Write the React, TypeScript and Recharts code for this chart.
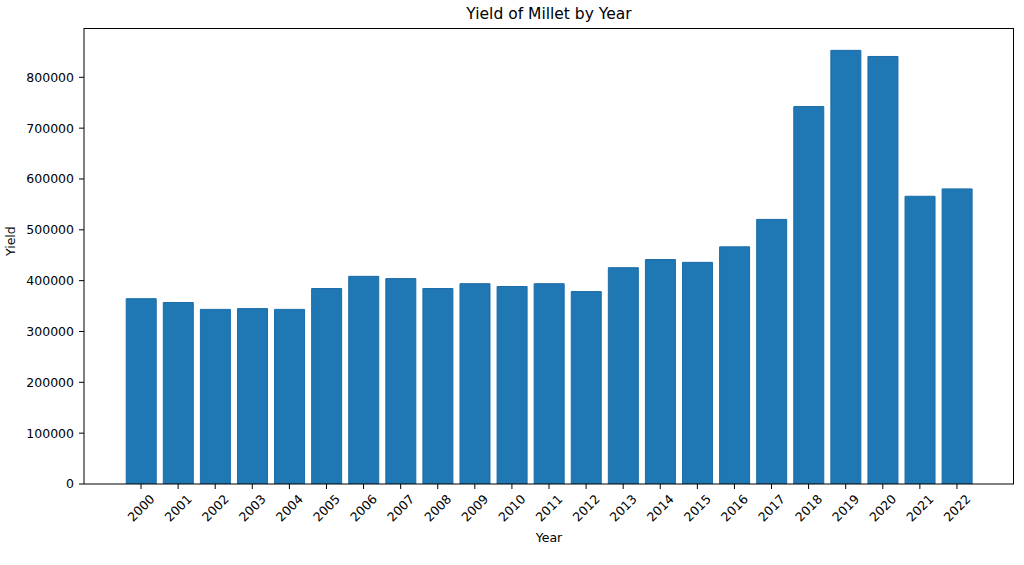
import React from 'react';
import { BarChart, Bar, XAxis, YAxis } from 'recharts';

// Millet yield per year
const years = [
    '2000', '2001', '2002', '2003', '2004', '2005', '2006', '2007', '2008', '2009', '2010', '2011',
    '2012', '2013', '2014', '2015', '2016', '2017', '2018', '2019', '2020', '2021', '2022',
];
const yields = [
    364500, 357000, 343500, 345000, 343500, 384500, 408500, 404000, 384500, 394000, 388500, 394000,
    378500, 425500, 441500, 436000, 466500, 520500, 742500, 853000, 841000, 566000, 580500,
];
const yTicks = [0, 100000, 200000, 300000, 400000, 500000, 600000, 700000, 800000];

const data = years.map((year, i) => ({ year, value: yields[i] }));

const FONT = '"DejaVu Sans", sans-serif';

const YearTick = (props: any) => {
    const { x, y, payload } = props;
    return (
        <text
            x={x}
            y={y + 17}
            transform={`rotate(-45, ${x}, ${y + 17})`}
            textAnchor="middle"
            dominantBaseline="central"
            fontSize={12.5}
            fontFamily={FONT}
            fill="#000"
        >
            {payload.value}
        </text>
    );
};

export default function App() {
    return (
        <div style={{ position: 'fixed', left: 0, top: 0, width: 1024, height: 565, background: '#fff', fontFamily: FONT }}>
            <div
                style={{
                    position: 'absolute', top: 5, left: 84, width: 930, textAlign: 'center',
                    fontSize: 15.5, color: '#000', fontFamily: FONT,
                }}
            >
                Yield of Millet by Year
            </div>
            <BarChart
                width={1024}
                height={565}
                data={data}
                margin={{ top: 28, right: 10, bottom: 0, left: 0 }}
                barCategoryGap="10%"
            >
                <XAxis
                    dataKey="year"
                    padding={{ left: 38.5, right: 38.5 }}
                    tick={<YearTick />}
                    tickSize={5}
                    height={81}
                    interval={0}
                    stroke="#000"
                    tickLine={{ stroke: '#000' }}
                    label={{ value: 'Year', position: 'insideBottom', offset: 23, fill: '#000', fontSize: 12.5, fontFamily: FONT }}
                />
                <YAxis
                    domain={[0, 897000]}
                    ticks={yTicks}
                    allowDataOverflow
                    width={84}
                    tickSize={5}
                    tickMargin={5}
                    stroke="#000"
                    tick={{ fill: '#000', fontSize: 12.5, fontFamily: FONT }}
                    label={{ value: 'Yield', angle: -90, position: 'insideLeft', offset: 11, fill: '#000', fontSize: 12.5, fontFamily: FONT }}
                />
                <Bar dataKey="value" fill="#1f77b4" stroke="#1b6ca8" strokeWidth={1} isAnimationActive={false} />
            </BarChart>
            {/* frame around the plot area (top and right spines) */}
            <div
                style={{
                    position: 'absolute', left: 84, top: 28, width: 930, height: 456,
                    boxSizing: 'border-box', borderTop: '1px solid #000', borderRight: '1px solid #000',
                    pointerEvents: 'none',
                }}
            />
        </div>
    );
}
